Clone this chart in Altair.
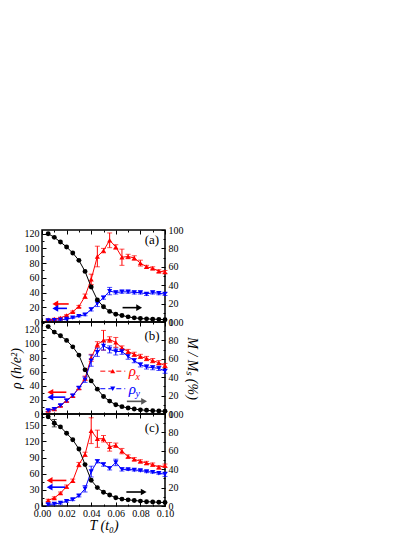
import altair as alt
import pandas as pd

# ---------------- data ----------------
T = [0.005, 0.010, 0.015, 0.020, 0.025, 0.030, 0.035, 0.040, 0.045, 0.050,
     0.055, 0.060, 0.065, 0.070, 0.075, 0.080, 0.085, 0.090, 0.095, 0.100]

# panel (a)
rho_x_a = [3, 4, 5.5, 9, 14, 21, 35, 58, 89, 97, 111, 102, 88, 89, 87, 80, 75, 73, 69, 68]
err_x_a = [1, 1, 1, 1, 1, 1.5, 3, 7, 14, 3, 10, 3, 11, 3, 3, 4, 2, 2, 2, 2]
rho_y_a = [2, 2.5, 3, 4, 6, 8, 10, 17, 25, 33, 42, 40, 41, 41, 40, 40, 38, 40, 39, 38]
err_y_a = [1, 1, 1, 1, 1, 1, 1.5, 2, 4, 2, 5, 2, 2, 2, 2, 2, 2, 2, 2, 2]
M_a = [96, 92, 87, 81.5, 75, 67, 55, 38, 24, 16.5, 11.5, 8.5, 7, 5.6, 4.5, 3.8, 3.4, 3.1, 2.9, 2.5]
err_M_a = [0] * 20

# panel (b)
rho_x_b = [5, 7, 12, 19, 26, 37, 51, 80, 99, 105, 106, 102, 94, 89, 85, 82, 79, 76, 73, 69]
err_x_b = [1.5, 1.5, 1.5, 2, 2, 2, 3, 5, 4, 14, 4, 7, 3, 3, 3, 3, 3, 3, 3, 3]
rho_y_b = [5, 7, 12, 19, 26, 37, 49, 76, 88, 97, 92, 89, 89, 82, 76, 70, 67, 66, 65, 61]
err_y_b = [1.5, 1.5, 1.5, 2, 2, 2, 4, 8, 6, 6, 5, 5, 4, 4, 3, 3, 3, 3, 3, 3]
M_b = [95, 89, 85, 80, 73, 64, 48, 36, 27, 19, 14, 10, 8, 6.5, 5.4, 4.5, 4, 3.5, 3.2, 3]
err_M_b = [0] * 20

# panel (c)
rho_x_c = [10.5, 15, 24, 36, 47, 77, 96, 140, 125, 125, 110, 113, 102, 92, 87, 83, 80, 77, 72, 75]
err_x_c = [2, 2, 2, 3, 3, 4, 4, 24, 16, 6, 8, 4, 5, 3, 3, 3, 3, 3, 3, 3]
rho_y_c = [2.7, 4, 5.5, 9, 12, 19, 32, 64, 83, 77, 70, 81, 68, 68, 67, 66, 64, 63, 61, 59]
err_y_c = [2, 2, 2, 2, 2, 2, 6, 10, 3, 3, 3, 6, 3, 2, 2, 2, 2, 2, 2, 4]
M_c = [97, 90, 86, 79, 72, 62, 45, 28, 20, 15, 12, 9, 7.5, 6.7, 6, 5.3, 4.7, 4.4, 4, 3.8]
err_M_c = [0, 4, 0, 0, 0, 0, 0, 0, 0, 0, 0, 0, 0, 0, 0, 0, 0, 0, 0, 0]

LEFT_MAX = {"a": 125, "b": 131, "c": 171}
LEFT_TICKS = {"a": [0, 20, 40, 60, 80, 100, 120],
              "b": [0, 20, 40, 60, 80, 100, 120],
              "c": [0, 30, 60, 90, 120, 150]}
LEFT_MINOR = {"a": [10, 30, 50, 70, 90, 110],
              "b": [10, 30, 50, 70, 90, 110, 130],
              "c": [15, 45, 75, 105, 135, 165]}
RIGHT_TICKS = [0, 20, 40, 60, 80, 100]
RIGHT_MINOR = [10, 30, 50, 70, 90]
X_TICKS = [0.0, 0.02, 0.04, 0.06, 0.08, 0.10]
X_MINOR = [0.01, 0.03, 0.05, 0.07, 0.09]
PANEL_LABEL = {"a": "(a)", "b": "(b)", "c": "(c)"}

# annotation anchors (data coordinates, left scale)
LABEL_POS = {"a": (0.0894, 112), "b": (0.0894, 110.5), "c": (0.0894, 145)}
# arrows: (x_tail, x_head, y, colour, head shape)
ARROWS = {
    "a": [(0.0217, 0.0108, 24.5, "#ff0000", "triangle-left"),
          (0.0203, 0.0108, 18.5, "#0000ff", "triangle-left"),
          (0.0655, 0.0790, 19.5, "#000000", "triangle-right")],
    "b": [(0.0198, 0.0068, 31, "#ff0000", "triangle-left"),
          (0.0190, 0.0068, 24, "#0000ff", "triangle-left"),
          (0.0690, 0.0830, 18, "#555555", "triangle-right")],
    "c": [(0.0198, 0.0062, 47.5, "#ff0000", "triangle-left"),
          (0.0187, 0.0062, 35, "#0000ff", "triangle-left"),
          (0.0686, 0.0827, 26, "#000000", "triangle-right")],
}
# legend in panel (b): (x0, x1, xmarker, y, colour, shape, sub, x_rho, x_sub, y_sub)
LEGEND_B = [
    (0.0474, 0.0677, 0.0575, 61, "#ff0000", "triangle-up", "x", 0.0735, 0.0778, 53),
    (0.0474, 0.0677, 0.0575, 36, "#0000ff", "triangle-down", "y", 0.0735, 0.0778, 28),
]

FONT = "Liberation Serif"
W, H = 123, 92
RED, BLUE = "#ff0000", "#0000ff"


def pairs(v):
    return [v[i:i + 2] for i in range(0, len(v), 2)]


def panel(key, rx, ex, ry, ey, M, eM):
    mid, last = key == "b", key == "c"
    rows = []
    for s, vals, errs in (("x", rx, ex), ("y", ry, ey)):
        for t, v, e in zip(T, vals, errs):
            rows.append(dict(T=t, rho=v, lo=v - e, hi=v + e, s=s))
    L = pd.DataFrame(rows)
    R = pd.DataFrame(dict(T=T, M=M, lo=[m - e for m, e in zip(M, eM)],
                          hi=[m + e for m, e in zip(M, eM)], e=eM))

    xs = alt.Scale(domain=[0, 0.1], nice=False, zero=False)
    ls = alt.Scale(domain=[0, LEFT_MAX[key]], nice=False, zero=False)
    rs = alt.Scale(domain=[0, 100], nice=False, zero=False)

    tick_common = dict(domain=False, offset=-4, tickSize=4, tickColor="black",
                       tickWidth=1, grid=False, labelFont=FONT, labelFontSize=10,
                       labelColor="black", labelOverlap=False,
                       titleFont=FONT, titleColor="black", titleFontWeight="normal")
    minor_common = dict(domain=False, offset=-2, tickSize=2, tickColor="black",
                        tickWidth=1, grid=False, labels=False, title=None)

    col = alt.Color("s:N", scale=alt.Scale(domain=["x", "y"], range=[RED, BLUE]), legend=None)
    shp = alt.Shape("s:N", scale=alt.Scale(domain=["x", "y"],
                                           range=["triangle-up", "triangle-down"]), legend=None)

    # data layers carry no axes; the axes come from the carrier layers below
    def X(f):
        return alt.X(f, scale=xs, axis=None)

    def YL(f):
        return alt.Y(f, scale=ls, axis=None)

    def YR(f):
        return alt.Y(f, scale=rs, axis=None)

    lb = alt.Chart(L)
    l_line = lb.mark_line(strokeWidth=1).encode(x=X("T:Q"), y=YL("rho:Q"), color=col)
    l_err = lb.mark_rule(strokeWidth=1).encode(
        x=X("T:Q"), y=YL("lo:Q"), y2="hi:Q", color=col)
    l_cap1 = lb.mark_tick(orient="horizontal", size=5, thickness=1).encode(
        x=X("T:Q"), y=YL("hi:Q"), color=col)
    l_cap2 = lb.mark_tick(orient="horizontal", size=5, thickness=1).encode(
        x=X("T:Q"), y=YL("lo:Q"), color=col)
    l_pts = lb.mark_point(filled=True, size=26, opacity=1).encode(
        x=X("T:Q"), y=YL("rho:Q"), color=col, shape=shp)

    layers = [l_line, l_err, l_cap1, l_cap2, l_pts]

    for (x0, x1, y, c, hs) in ARROWS[key]:
        ad = pd.DataFrame(dict(x0=[x0], x1=[x1], y=[y]))
        layers.append(alt.Chart(ad).mark_rule(strokeWidth=1.6, color=c).encode(
            x=X("x0:Q"), x2="x1:Q", y=YL("y:Q")))
        layers.append(alt.Chart(ad).mark_point(shape=hs, filled=True, size=45,
                                               opacity=1, color=c).encode(
            x=X("x1:Q"), y=YL("y:Q")))

    lx, ly = LABEL_POS[key]
    layers.append(alt.Chart(pd.DataFrame(dict(x=[lx], y=[ly], t=[PANEL_LABEL[key]])))
                  .mark_text(font=FONT, fontSize=13, color="black")
                  .encode(x=X("x:Q"), y=YL("y:Q"), text="t:N"))

    if mid:
        for (x0, x1, xm, y, c, sh, sub, xr, xsb, ysb) in LEGEND_B:
            gd = pd.DataFrame(dict(x0=[x0], x1=[x1], xm=[xm], y=[y], xr=[xr],
                                   xsb=[xsb], ysb=[ysb], r=["ρ"], sb=[sub]))
            g = alt.Chart(gd)
            layers.append(g.mark_rule(strokeWidth=1, color=c, strokeDash=[5, 3]).encode(
                x=X("x0:Q"), x2="x1:Q", y=YL("y:Q")))
            layers.append(g.mark_point(shape=sh, filled=True, size=26, opacity=1, color=c).encode(
                x=X("xm:Q"), y=YL("y:Q")))
            layers.append(g.mark_text(font=FONT, fontSize=15, fontStyle="italic", color=c).encode(
                x=X("xr:Q"), y=YL("y:Q"), text="r:N"))
            layers.append(g.mark_text(font=FONT, fontSize=10, fontStyle="italic", color=c).encode(
                x=X("xsb:Q"), y=YL("ysb:Q"), text="sb:N"))

    left = alt.layer(*layers)

    rb = alt.Chart(R)
    r_line = rb.mark_line(strokeWidth=1, color="black").encode(x=X("T:Q"), y=YR("M:Q"))
    rerr = rb.transform_filter("datum.e > 0")
    r_err = rerr.mark_rule(strokeWidth=1, color="black").encode(
        x=X("T:Q"), y=YR("lo:Q"), y2="hi:Q")
    r_c1 = rerr.mark_tick(orient="horizontal", size=5, thickness=1, color="black").encode(
        x=X("T:Q"), y=YR("hi:Q"))
    r_c2 = rerr.mark_tick(orient="horizontal", size=5, thickness=1, color="black").encode(
        x=X("T:Q"), y=YR("lo:Q"))
    r_pts = rb.mark_circle(size=24, opacity=1, color="black").encode(
        x=X("T:Q"), y=YR("M:Q"))
    right = alt.layer(r_line, r_err, r_c1, r_c2, r_pts)

    # ---- invisible carrier layers that hold the axes (at most 2 labels each) ----
    def carrier(ymax, yaxis, xaxis):
        return rb.mark_point(opacity=0, size=1).encode(
            x=alt.X("T:Q", scale=xs, axis=xaxis),
            y=alt.Y("M:Q", scale=alt.Scale(domain=[0, ymax], nice=False, zero=False),
                    axis=yaxis))

    carriers = []
    lp, xp, rp = pairs(LEFT_TICKS[key]), pairs(X_TICKS), pairs(RIGHT_TICKS)
    l_title_i = len(lp) - 1 if len(lp[-1]) == 2 or LEFT_TICKS[key][-1] >= 100 else len(lp) - 2
    for i in range(max(len(lp), len(xp))):
        ya = None
        if i < len(lp):
            ya = alt.Axis(orient="left", values=lp[i], labelPadding=3,
                          title="ρ (h/e²)" if (mid and i == l_title_i) else None,
                          titleFontSize=14, titleFontStyle="italic", titlePadding=1,
                          **tick_common)
        xa = None
        if i < len(xp):
            xa = alt.Axis(orient="bottom", values=xp[i], format=".2f", labels=last,
                          labelFlush=False, labelPadding=2,
                          title="T (t₀)" if (last and i == 0) else None,
                          titleFontSize=14, titleFontStyle="italic", titlePadding=0,
                          **tick_common)
        carriers.append(carrier(LEFT_MAX[key], ya, xa))
    for j in range(len(rp)):
        ya = alt.Axis(orient="right", values=rp[j], labelPadding=3,
                      title="M / Mₛ (%)" if (mid and j == len(rp) - 1) else None,
                      titleFontSize=14, titleFontStyle="italic", titlePadding=1,
                      **tick_common)
        xa = None
        if j == 0:
            xa = alt.Axis(orient="top", values=X_TICKS, labels=False, title=None,
                          **tick_common)
        carriers.append(carrier(100, ya, xa))

    carriers.append(carrier(LEFT_MAX[key],
                            alt.Axis(orient="left", values=LEFT_MINOR[key], **minor_common),
                            alt.Axis(orient="bottom", values=X_MINOR, **minor_common)))
    carriers.append(carrier(100,
                            alt.Axis(orient="right", values=RIGHT_MINOR, **minor_common),
                            alt.Axis(orient="top", values=X_MINOR, **minor_common)))

    return (alt.layer(left, right, *carriers)
            .resolve_scale(y="independent")
            .resolve_axis(x="independent")
            .properties(width=W, height=H))


pa = panel("a", rho_x_a, err_x_a, rho_y_a, err_y_a, M_a, err_M_a)
pb = panel("b", rho_x_b, err_x_b, rho_y_b, err_y_b, M_b, err_M_b)
pc = panel("c", rho_x_c, err_x_c, rho_y_c, err_y_c, M_c, err_M_c)

chart = (alt.vconcat(pa, pb, pc, spacing=0, bounds="flush")
         .properties(padding={"left": 0, "top": 216, "right": 5, "bottom": 5})
         .configure_view(stroke="black", strokeWidth=1.5)
         .configure_axis(labelOverlap=False))

chart.save("out.html", embed_options={"renderer": "svg", "actions": False})
